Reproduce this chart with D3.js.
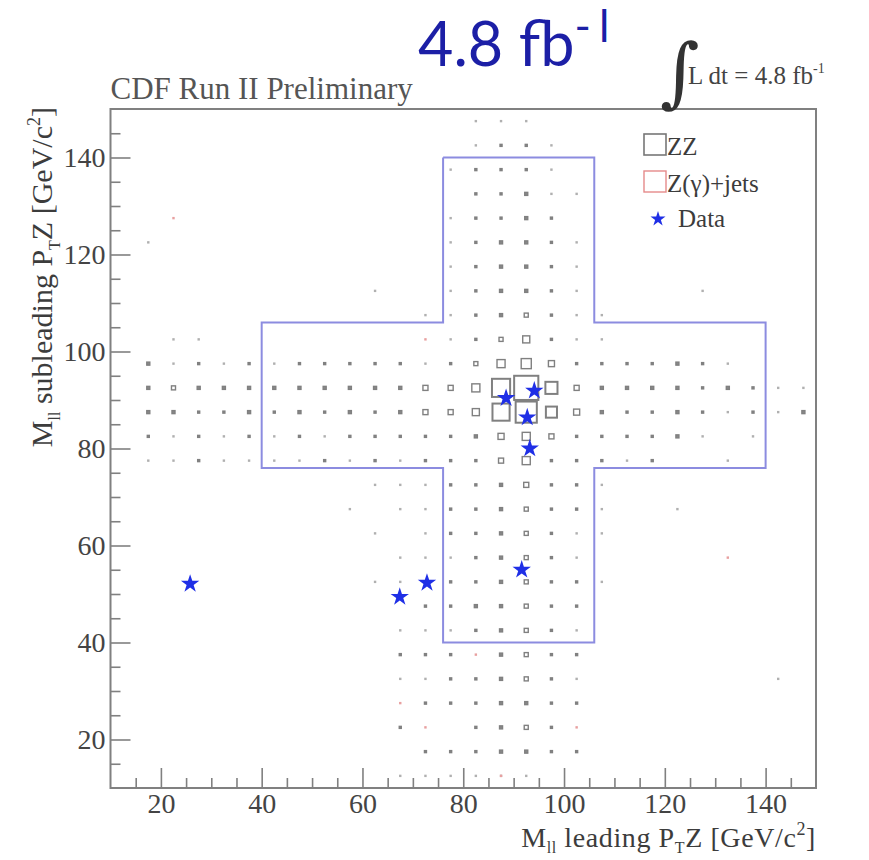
<!DOCTYPE html>
<html lang="en">
<head>
  <meta charset="UTF-8">
  <title>ZZ leading vs subleading mass</title>
  <script src="https://d3js.org/d3.v7.min.js"></script>
  <style>
    body { margin: 0; background: #fff; }
  </style>
</head>
<body>
  <div id="viz"></div>

  <script>
    // bin centres (5 GeV bins from 10 to 150), used for both axes
    const binCenters = [12.5, 17.5, 22.5, 27.5, 32.5, 37.5, 42.5, 47.5, 52.5, 57.5,
      62.5, 67.5, 72.5, 77.5, 82.5, 87.5, 92.5, 97.5, 102.5, 107.5,
      112.5, 117.5, 122.5, 127.5, 132.5, 137.5, 142.5, 147.5];
    const rowCenters = [147.5, 142.5, 137.5, 132.5, 127.5, 122.5, 117.5, 112.5, 107.5, 102.5,
      97.5, 92.5, 87.5, 82.5, 77.5, 72.5, 67.5, 62.5, 57.5, 52.5,
      47.5, 42.5, 37.5, 32.5, 27.5, 22.5, 17.5, 12.5];

    // ZZ expectation per bin (arbitrary units), top row first
    const zzCounts = [
      [0,0,0,0,0,0,0,0,0,0,0,0,0,0,1,1,1,0,0,0,0,0,0,0,0,0,0,0],
      [0,0,0,0,0,0,0,0,0,0,0,0,0,0,1,2,2,1,0,0,0,0,0,0,0,0,0,0],
      [0,0,0,0,0,0,0,0,0,0,0,0,0,1,2,2,2,1,0,0,0,0,0,0,0,0,0,0],
      [0,0,0,0,0,0,0,0,0,0,0,0,0,0,2,2,3,1,1,0,0,0,0,0,0,0,0,0],
      [0,0,0,0,0,0,0,0,0,0,0,0,0,1,2,2,3,2,0,0,0,0,0,0,0,0,0,0],
      [0,1,0,0,0,0,0,0,0,0,0,0,0,1,2,3,3,2,1,0,0,0,0,0,0,0,0,0],
      [0,0,0,0,0,0,0,0,0,0,0,0,0,1,2,3,3,2,1,0,0,0,0,0,0,0,0,0],
      [0,0,0,0,0,0,0,0,0,0,1,0,0,1,2,3,3,2,1,0,0,0,0,1,0,0,0,0],
      [0,0,0,0,0,0,0,0,0,0,0,0,1,1,2,3,4,2,1,1,0,0,0,0,0,0,0,0],
      [0,0,1,1,0,0,0,0,0,0,0,0,0,1,2,4,7,2,1,1,0,0,0,0,0,0,0,0],
      [0,3,1,2,1,2,1,2,2,2,2,2,1,2,4,8,10,6,2,2,2,2,3,2,1,0,0,0],
      [0,3,4,3,3,3,3,3,3,3,3,3,5,5,8,18,24,12,5,3,3,3,3,2,3,2,1,1],
      [0,3,3,2,2,3,2,3,2,3,2,3,5,5,7,17,21,11,6,3,2,2,3,2,1,2,1,3],
      [0,2,1,2,1,2,1,2,1,2,2,2,2,2,3,6,8,5,2,2,2,2,3,1,0,1,0,0],
      [0,1,1,2,1,1,1,1,2,1,2,1,2,2,2,5,8,2,2,2,1,2,0,0,1,0,0,0],
      [0,0,0,0,0,0,0,0,0,0,1,1,1,2,2,3,5,2,2,1,0,0,0,0,0,0,0,0],
      [0,0,0,0,0,0,0,0,0,1,0,1,1,2,2,3,4,2,2,1,0,0,1,0,0,0,0,0],
      [0,0,0,0,0,0,0,0,0,0,1,0,1,2,2,3,4,2,1,1,0,0,0,0,0,0,0,0],
      [0,0,0,0,0,0,0,0,0,0,0,1,1,1,2,3,4,2,1,0,0,0,0,0,0,0,0,0],
      [0,0,0,0,0,0,0,0,0,0,1,1,1,2,2,3,4,2,2,1,0,0,0,0,0,0,0,0],
      [0,0,0,0,0,0,0,0,0,0,0,0,2,2,3,3,4,2,2,0,0,0,0,0,0,0,0,0],
      [0,0,0,0,0,0,0,0,0,0,0,1,1,1,2,3,4,2,1,0,0,0,0,0,0,0,0,0],
      [0,0,0,0,0,0,0,0,0,0,0,2,2,2,0,3,4,2,2,0,0,0,0,0,0,0,0,0],
      [0,0,0,0,0,0,0,0,0,0,0,1,1,2,2,3,4,2,1,0,0,0,0,0,0,0,1,0],
      [0,0,0,0,0,0,0,0,0,0,0,0,2,2,2,3,3,2,2,0,0,0,0,0,0,0,0,0],
      [0,0,0,0,0,0,0,0,0,0,0,2,0,0,2,3,4,2,0,0,0,0,0,0,0,0,0,0],
      [0,0,0,0,0,0,0,0,0,0,0,0,2,2,2,3,3,2,2,0,0,0,0,0,0,0,0,0],
      [0,0,0,0,0,0,0,0,0,0,0,1,1,1,1,1,1,0,0,0,0,0,0,0,0,0,0,0]
    ];

    // Z(gamma)+jets bins that show up (sparse)
    const zjX = [72.5, 82.5, 67.5, 72.5, 102.5, 132.5, 22.5, 87.5];
    const zjY = [102.5, 37.5, 27.5, 22.5, 22.5, 57.5, 127.5, 12.5];
    const zjV = [1, 1, 1, 1, 1, 1, 1, 1];

    // observed events
    const dataX = [25.8, 67.4, 72.8, 91.6, 88.5, 94.1, 92.7, 93.2];
    const dataY = [52.1, 49.4, 52.3, 55.0, 90.4, 91.9, 86.4, 80.0];

    // signal region outline (cross)
    const regionX = [76, 106, 106, 140, 140, 106, 106, 76, 76, 40, 40, 76, 76];
    const regionY = [140, 140, 106, 106, 76, 76, 40, 40, 76, 76, 106, 106, 140];

    const majorTicks = [20, 40, 60, 80, 100, 120, 140];
    const minorTicks = [15, 25, 30, 35, 45, 50, 55, 65, 70, 75, 85, 90, 95,
      105, 110, 115, 125, 130, 135, 145];

    const serif = '"Liberation Serif", "Times New Roman", serif';
    const width = 869, height = 860;
    const plot = { left: 110.5, top: 109, right: 816, bottom: 788 };

    const svg = d3.select('#viz')
      .append('svg')
        .attr('width', width)
        .attr('height', height)
        .style('font-family', serif);

    const x = d3.scaleLinear().domain([10, 150]).range([plot.left, plot.right]);
    const y = d3.scaleLinear().domain([10, 150]).range([plot.bottom, plot.top]);
    const binPx = x(15) - x(10);
    const side = d3.scaleLinear().domain([0, 25]).range([0, binPx]);

    // ZZ boxes
    const zzCells = [];
    zzCounts.forEach((row, i) => row.forEach((v, j) => {
      if (v > 0) zzCells.push({ cx: binCenters[j], cy: rowCenters[i], v: v });
    }));

    svg.append('g')
      .selectAll('rect')
      .data(zzCells)
      .enter()
      .append('rect')
        .attr('x', d => x(d.cx) - side(d.v) / 2)
        .attr('y', d => y(d.cy) - side(d.v) / 2)
        .attr('width', d => side(d.v))
        .attr('height', d => side(d.v))
        .style('fill', d => d.v <= 3 ? '#888' : 'none')
        .style('stroke', d => d.v <= 1 ? '#b0b0b0' : '#808080')
        .style('stroke-width', d => d.v > 10 ? 2 : 1.4);

    // Z+jets boxes
    svg.append('g')
      .selectAll('rect')
      .data(zjX.map((cx, i) => ({ cx: cx, cy: zjY[i], v: zjV[i] })))
      .enter()
      .append('rect')
        .attr('x', d => x(d.cx) - side(d.v) / 2)
        .attr('y', d => y(d.cy) - side(d.v) / 2)
        .attr('width', d => side(d.v))
        .attr('height', d => side(d.v))
        .style('fill', '#e8a0a0')
        .style('stroke', '#e8a0a0')
        .style('stroke-width', 1.4);

    // signal region
    svg.append('path')
      .datum(regionX.map((v, i) => [v, regionY[i]]))
      .attr('d', d3.line().x(d => x(d[0])).y(d => y(d[1])))
      .style('fill', 'none')
      .style('stroke', '#8c8ce0')
      .style('stroke-width', 2);

    // data stars
    const star = d3.symbol().type(d3.symbolStar).size(105);
    svg.append('g')
      .selectAll('path')
      .data(dataX.map((v, i) => [v, dataY[i]]))
      .enter()
      .append('path')
        .attr('d', star)
        .attr('transform', d => `translate(${x(d[0])},${y(d[1])})`)
        .style('fill', '#1f2fe6');

    // axes
    const axisStyle = g => {
      g.attr('font-family', null);
      g.select('.domain').remove();
      g.selectAll('line').style('stroke', '#808080').style('stroke-width', 1.6);
      g.selectAll('text').style('font-size', '28px').style('font-family', serif).style('fill', '#444');
    };
    svg.append('g')
      .attr('transform', `translate(0,${plot.bottom})`)
      .call(d3.axisBottom(x).tickValues(majorTicks).tickSize(-20).tickPadding(5))
      .call(axisStyle);
    svg.append('g')
      .attr('transform', `translate(0,${plot.bottom})`)
      .call(d3.axisBottom(x).tickValues(minorTicks).tickSize(-10).tickFormat(''))
      .call(axisStyle);
    svg.append('g')
      .attr('transform', `translate(${plot.left},0)`)
      .call(d3.axisLeft(y).tickValues(majorTicks).tickSize(-20).tickPadding(5))
      .call(axisStyle);
    svg.append('g')
      .attr('transform', `translate(${plot.left},0)`)
      .call(d3.axisLeft(y).tickValues(minorTicks).tickSize(-10).tickFormat(''))
      .call(axisStyle);

    // frame
    svg.append('rect')
      .attr('x', plot.left).attr('y', plot.top)
      .attr('width', plot.right - plot.left).attr('height', plot.bottom - plot.top)
      .style('fill', 'none').style('stroke', '#808080').style('stroke-width', 2);

    // axis titles
    const addTitle = (sel, words, size, sub) => {
      sel.style('font-size', size + 'px').style('fill', '#3c3c3c');
      sel.append('tspan').text('M');
      sel.append('tspan').attr('dy', sub).style('font-size', '16px').text('ll');
      sel.append('tspan').attr('dy', -sub).text(words);
      sel.append('tspan').attr('dy', sub).style('font-size', '16px').text('T');
      sel.append('tspan').attr('dy', -sub).text('Z [GeV/c');
      sel.append('tspan').attr('dy', -12).style('font-size', '18px').text('2');
      sel.append('tspan').attr('dy', 12).text(']');
    };
    addTitle(svg.append('text')
      .attr('x', plot.right).attr('y', 847)
      .attr('text-anchor', 'end')
      .style('letter-spacing', '0.6px'), ' leading P', 28, 6);
    addTitle(svg.append('text')
      .attr('transform', `translate(52,${plot.top - 2}) rotate(-90)`)
      .attr('text-anchor', 'end'), ' subleading P', 30, 8);

    // header texts
    svg.append('text')
      .attr('x', plot.left).attr('y', 99)
      .style('font-size', '31px').style('fill', '#555')
      .text('CDF Run II Preliminary');

    svg.append('text')
      .attr('x', 660).attr('y', 98)
      .style('font-size', '76px').style('font-family', '"DejaVu Serif", serif').style('fill', '#333')
      .text('\u222B');
    const lum = svg.append('text')
      .attr('x', 688).attr('y', 84)
      .style('font-size', '25px').style('fill', '#444');
    lum.append('tspan').text('L dt = 4.8 fb');
    lum.append('tspan').attr('dy', -11).style('font-size', '14px').text('-1');

    const big = svg.append('text')
      .attr('x', 418).attr('y', 66)
      .style('font-family', 'Lato, "Open Sans", sans-serif')
      .style('font-size', '61px')
      .style('fill', '#1c1fa6');
    big.append('tspan').text('4.8 fb');
    big.append('tspan').attr('dy', -24).style('font-size', '44px').style('letter-spacing', '8px').text('-l');

    // legend
    const legend = svg.append('g').style('font-size', '25px').style('fill', '#3c3c3c');
    legend.append('rect').attr('x', 644).attr('y', 134).attr('width', 22).attr('height', 21)
      .style('fill', 'none').style('stroke', '#777').style('stroke-width', 1.6);
    legend.append('text').attr('x', 667).attr('y', 155).text('ZZ');
    legend.append('rect').attr('x', 644).attr('y', 171).attr('width', 22).attr('height', 21)
      .style('fill', 'none').style('stroke', '#e58a8a').style('stroke-width', 1.4);
    legend.append('text').attr('x', 667).attr('y', 192).text('Z(\u03B3)+jets');
    legend.append('path')
      .attr('d', d3.symbol().type(d3.symbolStar).size(70))
      .attr('transform', 'translate(658,219)')
      .style('fill', '#1f2fe6');
    legend.append('text').attr('x', 678).attr('y', 227).text('Data');
  </script>
</body>
</html>
